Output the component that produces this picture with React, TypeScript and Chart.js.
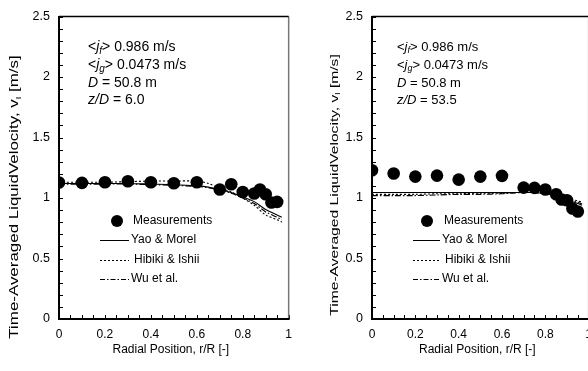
import React, { useEffect, useRef } from "react";
import { Chart, registerables } from "chart.js";

Chart.register(...registerables);

const FONT = '"Liberation Sans", Arial, Helvetica, sans-serif';

// ---------- data ----------
const measuredR = [0, 0.1, 0.2, 0.3, 0.4, 0.5, 0.6, 0.7, 0.75, 0.8, 0.85, 0.875, 0.9, 0.925, 0.95];
const measuredZD6 = [1.128, 1.125, 1.13, 1.138, 1.13, 1.122, 1.13, 1.07, 1.114, 1.05, 1.037, 1.07, 1.031, 0.963, 0.968];
const measuredZD535 = [1.229, 1.202, 1.177, 1.185, 1.152, 1.177, 1.183, 1.086, 1.084, 1.07, 1.031, 0.987, 0.982, 0.913, 0.888];

const modelR = [0, 0.1, 0.2, 0.3, 0.4, 0.5, 0.6, 0.65, 0.7, 0.75, 0.8, 0.85, 0.9, 0.95, 0.97];
const yaoMorelZD6 = [1.12, 1.12, 1.12, 1.12, 1.115, 1.11, 1.1, 1.09, 1.07, 1.045, 1.01, 0.97, 0.905, 0.86, 0.84];
const hibikiIshiiZD6 = [1.13, 1.13, 1.13, 1.135, 1.14, 1.14, 1.14, 1.12, 1.08, 1.05, 1.0, 0.94, 0.86, 0.82, 0.8];
const wuEtAlZD6 = [1.115, 1.115, 1.115, 1.115, 1.11, 1.105, 1.095, 1.085, 1.065, 1.04, 1.0, 0.955, 0.885, 0.84, 0.82];

const yaoMorelZD535 = [1.045, 1.045, 1.045, 1.045, 1.045, 1.045, 1.045, 1.045, 1.045, 1.045, 1.035, 1.015, 0.985, 0.955, 0.94];
const hibikiIshiiZD535 = [1.03, 1.03, 1.03, 1.035, 1.035, 1.04, 1.04, 1.045, 1.045, 1.045, 1.04, 1.025, 1.0, 0.975, 0.965];
const wuEtAlZD535 = [1.02, 1.02, 1.02, 1.025, 1.03, 1.03, 1.035, 1.04, 1.045, 1.045, 1.035, 1.02, 0.99, 0.965, 0.95];

const xMajorValues = [0, 0.2, 0.4, 0.6, 0.8, 1];
const xTickLabels = ["0", "0.2", "0.4", "0.6", "0.8", "1"];
const yMajorValues = [0, 0.5, 1, 1.5, 2, 2.5];
const yTickLabels = ["0", "0.5", "1", "1.5", "2", "2.5"];

const seriesNames = ["Measurements", "Yao & Morel", "Hibiki & Ishii", "Wu et al."];
const xAxisTitle = "Radial Position, r/R [-]";
const yAxisTitleMain = "Time-Averaged LiquidVelocity, v";
const yAxisTitleSub = "l";
const yAxisTitleEnd = " [m/s]";
const jfText = "> 0.986 m/s";
const jgText = "> 0.0473 m/s";
const diameterText = " = 50.8 m";
const zdTextA = " = 6.0";
const zdTextB = " = 53.5";

// ---------- helpers ----------
type Part = { t: string; it?: boolean; sub?: boolean };

function drawRich(ctx: CanvasRenderingContext2D, x: number, y: number, parts: Part[], size: number, center = false) {
  const fontOf = (p: Part) => `${p.it ? "italic " : ""}${p.sub ? Math.round(size * 0.68) : size}px ${FONT}`;
  let total = 0;
  for (const p of parts) {
    ctx.font = fontOf(p);
    total += ctx.measureText(p.t).width;
  }
  let cx = center ? x - total / 2 : x;
  ctx.textBaseline = "middle";
  ctx.textAlign = "left";
  for (const p of parts) {
    ctx.font = fontOf(p);
    ctx.fillText(p.t, cx, p.sub ? y + size * 0.28 : y);
    cx += ctx.measureText(p.t).width;
  }
}

function labelFor(values: number[], labels: string[]) {
  return (v: number | string) => {
    const n = Number(v);
    for (let i = 0; i < values.length; i++) if (Math.abs(values[i] - n) < 1e-6) return labels[i];
    return "";
  };
}

type PanelSpec = {
  yAxisWidth: number;
  padRight: number;
  yTitleX: number;
  yTitleY: number;
  yTitleSize: number;
  yTitleStretch: number;
  annX: number;
  annSize: number;
  zdText: string;
  legendMarkerX: number;
  legendLineX0: number;
  legendLineX1: number;
  legendTextX: number;
  measured: number[];
  yao: number[];
  hibiki: number[];
  wu: number[];
};

function decorPlugin(p: PanelSpec) {
  return {
    id: "decor",
    afterDatasetsDraw(chart: any) {
      const ctx: CanvasRenderingContext2D = chart.ctx;
      const { left, right, top, bottom } = chart.chartArea;
      const xs = chart.scales.x;
      const ys = chart.scales.y;
      ctx.save();
      // inner tick marks
      ctx.strokeStyle = "#000";
      ctx.lineWidth = 1;
      ctx.beginPath();
      for (const t of xs.ticks) {
        const px = Math.round(xs.getPixelForValue(t.value)) + 0.5;
        ctx.moveTo(px, bottom);
        ctx.lineTo(px, bottom - 4);
      }
      for (const t of ys.ticks) {
        const py = Math.round(ys.getPixelForValue(t.value)) + 0.5;
        ctx.moveTo(left, py);
        ctx.lineTo(left + 4, py);
      }
      ctx.stroke();
      // frame
      ctx.strokeStyle = "#777";
      ctx.lineWidth = 1.5;
      ctx.beginPath();
      ctx.moveTo(right, top);
      ctx.lineTo(right, bottom);
      ctx.stroke();
      ctx.strokeStyle = "#000";
      ctx.lineWidth = 1.5;
      ctx.beginPath();
      ctx.moveTo(left, top);
      ctx.lineTo(right, top);
      ctx.stroke();
      ctx.lineWidth = 2;
      ctx.beginPath();
      ctx.moveTo(left, top - 0.5);
      ctx.lineTo(left, bottom);
      ctx.lineTo(right + 1, bottom);
      ctx.stroke();

      // annotation
      ctx.fillStyle = "#000";
      const s = p.annSize;
      drawRich(ctx, p.annX, 47, [{ t: "<" }, { t: "j", it: true }, { t: "f", it: true, sub: true }, { t: jfText }], s);
      drawRich(ctx, p.annX, 65, [{ t: "<" }, { t: "j", it: true }, { t: "g", it: true, sub: true }, { t: jgText }], s);
      drawRich(ctx, p.annX, 83, [{ t: "D", it: true }, { t: diameterText }], s);
      drawRich(ctx, p.annX, 100, [{ t: "z/D", it: true }, { t: p.zdText }], s);

      // legend
      ctx.font = `12px ${FONT}`;
      ctx.textBaseline = "middle";
      ctx.beginPath();
      ctx.arc(p.legendMarkerX, 221, 6, 0, Math.PI * 2);
      ctx.fill();
      ctx.fillText(seriesNames[0], p.legendTextX + 2, 221);
      const dashes = [[], [2, 2], [5, 2, 1.5, 2]];
      const ly = [240, 260, 279];
      for (let i = 0; i < 3; i++) {
        ctx.setLineDash(dashes[i]);
        ctx.lineWidth = 1;
        ctx.beginPath();
        ctx.moveTo(p.legendLineX0, ly[i] + 0.5);
        ctx.lineTo(p.legendLineX1, ly[i] + 0.5);
        ctx.stroke();
        ctx.setLineDash([]);
        ctx.fillText(seriesNames[i + 1], p.legendTextX + (i === 1 ? 3 : 0), ly[i]);
      }

      // axis titles
      ctx.font = `12px ${FONT}`;
      ctx.textAlign = "center";
      ctx.fillText(xAxisTitle, (left + right) / 2 - 3, 350);
      ctx.save();
      ctx.translate(p.yTitleX, p.yTitleY);
      ctx.rotate(-Math.PI / 2);
      ctx.scale(p.yTitleStretch, 1);
      drawRich(ctx, 0, 0, [{ t: yAxisTitleMain }, { t: yAxisTitleSub, sub: true }, { t: yAxisTitleEnd }], p.yTitleSize, true);
      ctx.restore();
      ctx.restore();
    },
  };
}

function Panel({ spec, width, left }: { spec: PanelSpec; width: number; left: number }) {
  const ref = useRef<HTMLCanvasElement | null>(null);
  useEffect(() => {
    if (!ref.current) return;
    const pts = (xs: number[], ys: number[]) => xs.map((x, i) => ({ x, y: ys[i] }));
    const lineDs = (label: string, ys: number[], dash: number[]) => ({
      type: "line" as const,
      label,
      data: pts(modelR, ys),
      showLine: true,
      borderColor: "#000",
      borderWidth: 1.1,
      borderDash: dash,
      pointRadius: 0,
      tension: 0.3,
      fill: false,
    });
    const chart = new Chart(ref.current, {
      type: "scatter",
      data: {
        datasets: [
          {
            label: seriesNames[0],
            data: pts(measuredR, spec.measured),
            backgroundColor: "#000",
            borderWidth: 0,
            pointRadius: 6.3,
            showLine: false,
          } as any,
          lineDs(seriesNames[1], spec.yao, []),
          lineDs(seriesNames[2], spec.hibiki, [2, 2]),
          lineDs(seriesNames[3], spec.wu, [6, 2, 1.5, 2]),
        ],
      },
      options: {
        responsive: false,
        animation: false,
        events: [],
        layout: { padding: { top: 16, right: spec.padRight, left: 0, bottom: 0 } },
        plugins: { legend: { display: false }, tooltip: { enabled: false } },
        scales: {
          x: {
            type: "linear",
            min: 0,
            max: 1,
            grid: { display: false, drawTicks: false },
            border: { display: false },
            ticks: {
              stepSize: 0.05,
              autoSkip: false,
              maxRotation: 0,
              padding: 8,
              color: "#000",
              font: { family: FONT, size: 12 },
              callback: labelFor(xMajorValues, xTickLabels),
            },
            afterFit: (s: any) => {
              s.height = 52;
            },
          },
          y: {
            type: "linear",
            min: 0,
            max: 2.5,
            grid: { display: false, drawTicks: false },
            border: { display: false },
            ticks: {
              stepSize: 0.1,
              autoSkip: false,
              padding: 9,
              color: "#000",
              font: { family: FONT, size: 12.5 },
              callback: labelFor(yMajorValues, yTickLabels),
            },
            afterFit: (s: any) => {
              s.width = spec.yAxisWidth;
            },
          },
        },
      },
      plugins: [decorPlugin(spec)],
    } as any);
    return () => chart.destroy();
  }, [spec]);
  return (
    <canvas
      ref={ref}
      width={width}
      height={371}
      style={{ position: "absolute", left, top: 0, width, height: 371 }}
    />
  );
}

const leftSpec: PanelSpec = {
  yAxisWidth: 59,
  padRight: 10,
  yTitleX: 15,
  yTitleY: 197,
  yTitleSize: 12,
  yTitleStretch: 1.41,
  annX: 88,
  annSize: 14,
  zdText: zdTextA,
  legendMarkerX: 117,
  legendLineX0: 100,
  legendLineX1: 129,
  legendTextX: 131,
  measured: measuredZD6,
  yao: yaoMorelZD6,
  hibiki: hibikiIshiiZD6,
  wu: wuEtAlZD6,
};

const rightSpec: PanelSpec = {
  yAxisWidth: 82,
  padRight: 10,
  yTitleX: 45,
  yTitleY: 185,
  yTitleSize: 11,
  yTitleStretch: 1.42,
  annX: 107,
  annSize: 13,
  zdText: zdTextB,
  legendMarkerX: 137,
  legendLineX0: 123,
  legendLineX1: 150,
  legendTextX: 152,
  measured: measuredZD535,
  yao: yaoMorelZD535,
  hibiki: hibikiIshiiZD535,
  wu: wuEtAlZD535,
};

export default function App() {
  return (
    <div
      style={{
        position: "fixed",
        left: 0,
        top: 0,
        width: 588,
        height: 371,
        overflow: "hidden",
        background: "#fff",
      }}
    >
      <Panel spec={leftSpec} width={300} left={0} />
      <Panel spec={rightSpec} width={310} left={290} />
    </div>
  );
}
